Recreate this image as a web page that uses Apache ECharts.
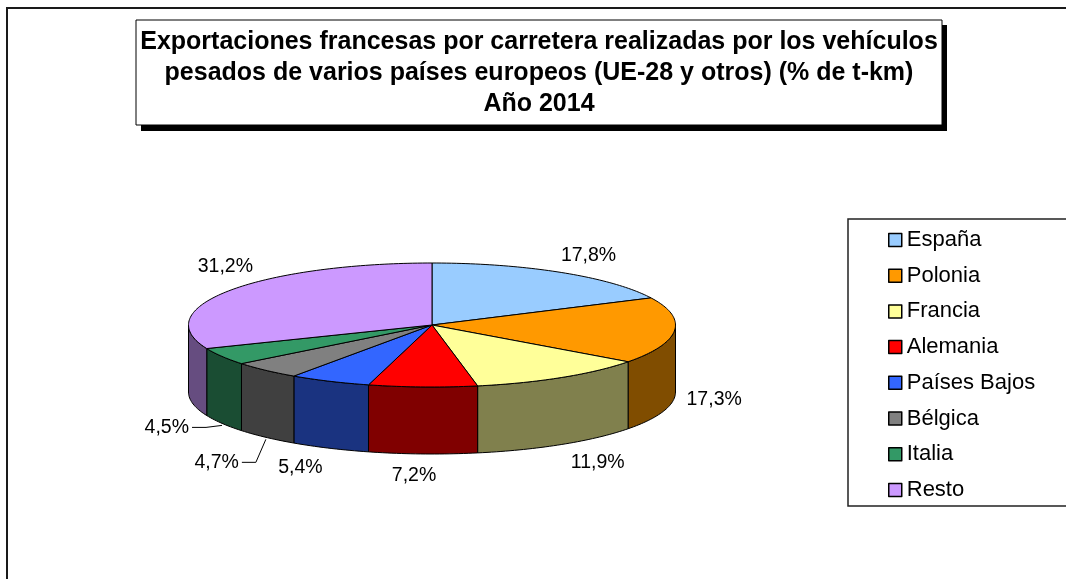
<!DOCTYPE html>
<html>
<head>
<meta charset="utf-8">
<script src="https://cdn.jsdelivr.net/npm/echarts@6/dist/echarts.min.js"></script>
<style>
  html, body { margin: 0; padding: 0; background: #fff; }
  #chart { width: 1066px; height: 579px; }
</style>
</head>
<body>
<div id="chart"></div>
<script>
// datos (% de t-km), orden del gráfico en sentido horario desde arriba
const paises = ['España', 'Polonia', 'Francia', 'Alemania', 'Países Bajos', 'Bélgica', 'Italia', 'Resto']
const cuota = [17.8, 17.3, 11.9, 7.2, 5.4, 4.7, 4.5, 31.2]
const etiquetas = ['17,8%', '17,3%', '11,9%', '7,2%', '5,4%', '4,7%', '4,5%', '31,2%']
const tituloLineas = [
  'Exportaciones francesas por carretera realizadas por los vehículos',
  'pesados de varios países europeos (UE-28 y otros) (% de t-km)',
  'Año 2014'
]

const colores = ['#99ccff', '#ff9900', '#ffff99', '#ff0000', '#3366ff', '#808080', '#339966', '#cc99ff']
const FONT = '"Liberation Sans", Arial, sans-serif'

// geometría del pastel "3D"
const cx = 432, cy = 325, rx = 243.5, ry = 62, depth = 67
// líneas guía para los sectores pequeños (desplazamiento del codo)
const guias = { 'Bélgica': [-10, 23], 'Italia': [-16, 2] }
// pequeños ajustes de posición de algunas etiquetas
const ajustes = { 'España': [8, 2], 'Alemania': [-6, 0], 'Resto': [26, -12] }

function oscuro(hex) {
  let n = parseInt(hex.slice(1), 16)
  let r = (n >> 16) & 255, g = (n >> 8) & 255, b = n & 255
  return 'rgb(' + Math.round(r * 0.5) + ',' + Math.round(g * 0.5) + ',' + Math.round(b * 0.5) + ')'
}
function pt(a, dy) {
  return [cx + rx * Math.sin(a), cy - ry * Math.cos(a) + (dy || 0)]
}
function arco(a0, a1, dy) {
  let pts = []
  let n = Math.max(2, Math.ceil((a1 - a0) / 0.02))
  for (let k = 0; k <= n; k++) pts.push(pt(a0 + (a1 - a0) * k / n, dy))
  return pts
}

const total = cuota.reduce((s, v) => s + v, 0)

function renderItem(params, api) {
  let i = params.dataIndex
  let antes = 0
  for (let k = 0; k < i; k++) antes += cuota[k]
  let a0 = antes / total * Math.PI * 2
  let a1 = (antes + api.value(0)) / total * Math.PI * 2
  let children = []

  // pared exterior visible (mitad delantera)
  let w0 = Math.max(a0, Math.PI / 2), w1 = Math.min(a1, Math.PI * 1.5)
  if (w1 > w0) {
    let top = arco(w0, w1, 0)
    let bot = arco(w0, w1, depth).reverse()
    children.push({
      type: 'polygon', z2: 1,
      shape: { points: top.concat(bot) },
      style: { fill: oscuro(colores[i]), stroke: '#000', lineWidth: 1 }
    })
  }
  // cara superior
  children.push({
    type: 'polygon', z2: 2,
    shape: { points: [[cx, cy]].concat(arco(a0, a1, 0)) },
    style: { fill: colores[i], stroke: '#000', lineWidth: 1, lineJoin: 'round' }
  })

  // etiqueta
  let m = (a0 + a1) / 2
  let front = Math.cos(m) < 0
  let g = guias[paises[i]]
  if (g) {
    let s = pt(m, depth + 2)
    let e = [s[0] + g[0], s[1] + g[1]]
    let f = [e[0] - 14, e[1]]
    children.push({
      type: 'polyline', z2: 3,
      shape: { points: [s, e, f] },
      style: { stroke: '#000', lineWidth: 1, fill: null }
    })
    children.push({
      type: 'text', z2: 3,
      x: f[0] - 3, y: f[1],
      style: { text: etiquetas[i], font: '19.5px ' + FONT, fill: '#000', align: 'right', verticalAlign: 'middle' }
    })
  } else {
    let adj = ajustes[paises[i]] || [0, 0]
    let kx = front ? 1.15 + 0.15 * Math.abs(Math.cos(m)) : 1.15
    let lx = cx + rx * kx * Math.sin(m) + adj[0]
    let ly = cy - ry * 1.35 * Math.cos(m) + (front ? depth : 0) + adj[1]
    children.push({
      type: 'text', z2: 3,
      x: lx, y: ly,
      style: { text: etiquetas[i], font: '19.5px ' + FONT, fill: '#000', align: 'center', verticalAlign: 'middle' }
    })
  }
  return { type: 'group', children: children }
}

let chart = echarts.init(document.getElementById('chart'))
chart.setOption({
  animation: false,
  backgroundColor: '#fff',
  color: colores,
  graphic: [
    { type: 'rect', z: 0, shape: { x: 7, y: 8, width: 1200, height: 700 }, style: { fill: null, stroke: '#1a1a1a', lineWidth: 2 } },
    { type: 'rect', z: 0, shape: { x: 141, y: 25, width: 806, height: 106 }, style: { fill: '#000' } },
    { type: 'rect', z: 1, shape: { x: 136, y: 20, width: 806, height: 105 }, style: { fill: '#fff', stroke: '#000', lineWidth: 1 } },
    { type: 'rect', z: 0, shape: { x: 848, y: 219, width: 300, height: 287 }, style: { fill: '#fff', stroke: '#222', lineWidth: 1.5 } }
  ].concat(tituloLineas.map((t, k) => ({
    type: 'text', z: 2,
    x: 539, y: 42 + k * 31,
    style: { text: t, font: 'bold 25px ' + FONT, fill: '#000', align: 'center', verticalAlign: 'middle' }
  }))),
  legend: {
    orient: 'vertical',
    left: 883,
    top: 224,
    itemWidth: 13,
    itemHeight: 13,
    itemGap: 13.7,
    icon: 'rect',
    itemStyle: { borderColor: '#000', borderWidth: 1.5 },
    textStyle: { fontFamily: FONT, fontSize: 22, color: '#000', lineHeight: 22, padding: [0, 0, 0, 0] },
    selectedMode: false,
    data: paises
  },
  series: [
    {
      type: 'custom',
      name: 'Exportaciones',
      coordinateSystem: 'none',
      renderItem: renderItem,
      data: paises.map((p, i) => ({ name: p, value: [cuota[i]] }))
    },
    {
      // serie auxiliar sólo para la leyenda
      type: 'pie',
      name: 'leyenda',
      radius: [0, 0],
      center: [-200, -200],
      silent: true,
      label: { show: false },
      labelLine: { show: false },
      data: paises.map((p, i) => ({ name: p, value: cuota[i] }))
    }
  ]
})
</script>
</body>
</html>
